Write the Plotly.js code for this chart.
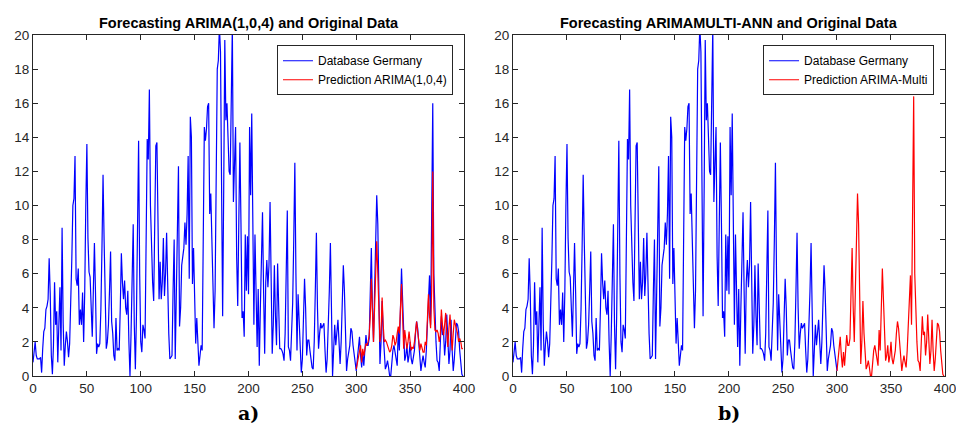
<!DOCTYPE html>
<html>
<head>
<meta charset="utf-8">
<script src="https://cdn.plot.ly/plotly-3.0.1.min.js"></script>
<style>html,body{margin:0;padding:0;background:#fff;}#chart{width:956px;height:423px;}</style>
</head>
<body>
<div id="chart"></div>
<script>
// Observed series "Database Germany" (index 0..399)
const germany = [
0.8,1.3,2.0,1.2,1.0,1.0,1.0,1.1,0.2,1.6,
2.6,2.8,3.9,4.1,4.5,6.9,4.8,1.2,0.1,1.8,
5.5,3.0,3.8,0.8,3.5,5.2,1.5,8.7,3.1,0.6,
1.8,2.6,2.0,1.1,1.9,4.0,6.8,10.0,10.4,12.9,
5.7,5.3,6.3,3.0,3.9,3.0,4.9,2.0,4.9,10.0,
13.6,8.1,6.1,5.8,3.7,2.3,5.0,7.8,4.9,1.3,
1.9,1.7,1.9,3.9,7.5,11.8,7.9,3.5,1.6,2.0,
3.0,5.0,7.3,3.2,2.5,1.2,0.9,3.4,1.5,1.6,
1.5,4.0,7.2,5.5,4.5,5.6,4.0,3.6,5.0,2.0,
0.0,2.5,5.5,8.9,3.0,0.4,3.5,9.0,13.8,6.0,
2.0,1.4,3.0,2.7,2.2,8.0,13.9,12.7,16.8,10.0,
7.0,5.5,4.4,8.0,13.5,13.7,7.0,4.5,6.7,4.5,
5.5,8.1,4.7,6.0,8.4,5.0,2.5,1.0,1.1,1.2,
5.0,8.0,1.0,4.5,9.0,12.3,2.9,4.0,6.5,7.2,
7.5,9.0,7.7,9.5,12.9,5.7,15.2,14.0,5.4,7.5,
4.5,1.9,3.4,1.8,0.6,1.2,1.8,1.5,7.0,14.6,
13.8,14.5,15.8,16.0,9.5,10.7,8.0,4.5,2.8,5.0,
11.0,18.0,18.5,20.5,19.0,10.0,3.5,11.0,19.7,15.0,
16.0,14.0,12.0,11.8,17.0,20.5,10.2,12.0,14.6,7.0,
4.1,9.0,13.7,9.0,3.4,3.8,2.3,8.3,5.0,8.2,
4.8,14.6,10.6,15.4,9.0,3.0,8.3,3.5,1.7,5.1,
0.6,4.0,7.0,9.6,5.0,1.3,5.5,6.8,5.2,6.5,
10.2,5.0,1.3,3.0,6.5,3.5,1.8,6.6,3.0,1.6,
1.6,1.5,1.3,0.9,2.5,5.5,9.7,1.7,1.5,0.9,
2.5,4.3,8.0,12.5,6.0,1.5,4.8,3.0,1.2,0.2,
1.0,3.5,5.7,4.0,1.2,2.1,2.1,1.5,1.0,0.5,
0.4,2.0,5.0,8.4,4.0,1.6,2.5,3.1,2.8,3.0,
3.1,1.5,0.2,1.0,2.5,5.0,7.8,4.0,0.0,1.5,
3.0,1.8,2.5,3.3,2.0,0.7,2.0,4.0,6.5,5.0,
2.0,0.3,1.0,1.5,1.8,2.8,2.6,1.8,1.2,0.6,
0.3,1.0,1.5,2.3,1.2,0.5,1.4,0.6,1.5,2.4,
1.8,1.8,2.2,4.5,7.5,4.0,2.0,5.0,8.5,10.6,
8.9,4.0,0.7,2.0,4.4,2.5,1.2,0.4,0.6,0.9,
0.5,0.0,0.0,0.8,1.5,1.8,1.5,1.0,0.6,2.7,
1.5,3.5,6.3,4.5,2.0,0.9,1.2,1.8,0.8,1.2,
2.0,1.0,0.7,1.0,1.5,2.5,3.2,2.8,2.0,1.5,
0.3,0.8,1.2,0.8,0.5,1.5,3.0,4.5,5.9,3.0,
8.0,16.0,6.0,3.3,2.0,0.9,0.8,0.3,2.0,3.5,
2.4,2.6,1.2,2.0,3.6,2.5,0.7,1.5,3.3,1.5,
0.3,1.0,2.0,3.1,3.0,2.6,1.5,0.5,0.1,0.0
];
// Observed part shown in panel b (index 0..300)
const germanyTrainEnd = 300;

// Prediction ARIMA(1,0,4), index 300..399
const predArima = [
0.4,0.8,1.2,1.5,1.8,0.8,1.6,1.2,1.5,1.9,
1.8,2.0,2.4,3.5,5.7,3.5,2.0,4.0,6.0,7.9,
6.0,4.0,2.0,2.5,4.6,3.0,2.0,2.1,2.0,1.8,
1.6,1.4,1.5,1.8,2.4,2.2,1.8,2.0,2.5,2.9,
2.5,3.8,5.4,3.5,1.6,2.7,2.2,1.6,2.0,2.6,
2.0,1.5,1.7,1.6,2.0,2.8,3.2,2.6,2.0,1.5,
1.9,1.6,1.4,1.4,2.0,1.8,3.0,4.8,3.5,2.8,
5.0,12.0,4.0,2.7,2.6,2.7,2.5,2.0,2.4,3.9,
3.0,2.4,3.0,3.7,2.5,1.7,2.8,3.6,2.5,1.5,
2.5,3.3,3.0,2.8,2.5,2.0,2.2,2.0,1.6,1.6
];

// Prediction ARIMA-Multi, index 300..399
const predMulti = [
0.3,1.0,1.5,2.3,1.2,0.5,1.4,0.6,1.5,2.4,
1.8,1.8,2.2,4.5,7.5,4.0,2.0,5.0,8.5,10.7,
8.9,4.0,0.7,2.0,4.4,2.5,1.2,0.4,0.6,0.9,
0.5,0.0,0.0,0.8,1.5,1.8,1.5,1.0,0.6,2.7,
1.5,3.5,6.3,4.5,2.0,0.9,1.2,1.8,0.8,1.2,
2.0,1.0,0.7,1.0,1.5,2.5,3.2,2.8,2.0,1.5,
0.3,0.8,1.2,0.8,0.5,1.5,3.0,4.5,5.9,3.0,
8.0,16.4,6.0,3.3,2.0,0.9,0.8,0.3,2.0,3.5,
2.4,2.6,1.2,2.0,3.6,2.5,0.7,1.5,3.3,1.5,
0.3,1.0,2.0,3.1,3.0,2.6,1.5,0.5,0.1,0.0
];

const titleA = "Forecasting ARIMA(1,0,4) and Original Data";
const titleB = "Forecasting ARIMAMULTI-ANN and Original Data";
const nameObs = "Database Germany";
const nameA = "Prediction ARIMA(1,0,4)";
const nameB = "Prediction ARIMA-Multi";

const idx = germany.map((_, i) => i);
const predStart = 300;
const predIdx = predArima.map((_, i) => predStart + i);
const predIdxB = predMulti.map((_, i) => predStart + i);

const lw = 1.2;
const traces = [
  {x: idx, y: germany, type: 'scatter', mode: 'lines', name: nameObs,
   line: {color: '#0000ff', width: lw}, xaxis: 'x', yaxis: 'y', legend: 'legend'},
  {x: predIdx, y: predArima, type: 'scatter', mode: 'lines', name: nameA,
   line: {color: '#ff0000', width: lw}, xaxis: 'x', yaxis: 'y', legend: 'legend'},
  {x: idx.slice(0, germanyTrainEnd + 1), y: germany.slice(0, germanyTrainEnd + 1), type: 'scatter', mode: 'lines', name: nameObs,
   line: {color: '#0000ff', width: lw}, xaxis: 'x2', yaxis: 'y2', legend: 'legend2'},
  {x: predIdxB, y: predMulti, type: 'scatter', mode: 'lines', name: nameB,
   line: {color: '#ff0000', width: lw}, xaxis: 'x2', yaxis: 'y2', legend: 'legend2'}
];

const axisCommon = {
  showgrid: false, zeroline: false, showline: true, mirror: 'ticks',
  linecolor: '#262626', linewidth: 1, ticks: 'inside', ticklen: 5,
  ticklabeloverflow: 'allow',
  tickcolor: '#262626', tickfont: {family: 'Liberation Sans, Arial, sans-serif', size: 13.5, color: '#262626'}
};
const xa = Object.assign({}, axisCommon, {range: [0, 400], dtick: 50, tick0: 0});
const ya = Object.assign({}, axisCommon, {range: [0, 20], dtick: 2, tick0: 0});

const legendCommon = {
  bgcolor: '#ffffff', bordercolor: '#262626', borderwidth: 1,
  font: {family: 'Liberation Sans, Arial, sans-serif', size: 12, color: '#000'},
  yanchor: 'top', xanchor: 'right', tracegroupgap: 0, itemwidth: 30
};

const layout = {
  width: 956, height: 423,
  margin: {l: 33, r: 11, t: 35, b: 47},
  paper_bgcolor: '#fff', plot_bgcolor: '#fff',
  showlegend: true,
  xaxis: Object.assign({}, xa, {domain: [0, 0.4726], anchor: 'y'}),
  yaxis: Object.assign({}, ya, {domain: [0, 1], anchor: 'x'}),
  xaxis2: Object.assign({}, xa, {domain: [0.5263, 1], anchor: 'y2'}),
  yaxis2: Object.assign({}, ya, {domain: [0, 1], anchor: 'x2'}),
  legend: Object.assign({}, legendCommon, {x: 0.4605, y: 0.97}),
  legend2: Object.assign({}, legendCommon, {x: 0.988, y: 0.97}),
  annotations: [
    {text: '<b>' + titleA + '</b>', xref: 'x domain', yref: 'paper', x: 0.5, y: 1, yanchor: 'bottom', yshift: 2,
     showarrow: false, font: {family: 'Liberation Sans, Arial, sans-serif', size: 14.5, color: '#000'}},
    {text: '<b>' + titleB + '</b>', xref: 'x2 domain', yref: 'paper', x: 0.5, y: 1, yanchor: 'bottom', yshift: 2,
     showarrow: false, font: {family: 'Liberation Sans, Arial, sans-serif', size: 14.5, color: '#000'}},
    {text: '<b>a)</b>', xref: 'x domain', yref: 'paper', x: 0.5, y: 0, yanchor: 'middle', yshift: -37,
     showarrow: false, font: {family: 'DejaVu Serif, Liberation Serif, serif', size: 19, color: '#000'}},
    {text: '<b>b)</b>', xref: 'x2 domain', yref: 'paper', x: 0.5, y: 0, yanchor: 'middle', yshift: -37,
     showarrow: false, font: {family: 'DejaVu Serif, Liberation Serif, serif', size: 19, color: '#000'}}
  ]
};

Plotly.newPlot('chart', traces, layout, {displayModeBar: false, staticPlot: true});
</script>
</body>
</html>
